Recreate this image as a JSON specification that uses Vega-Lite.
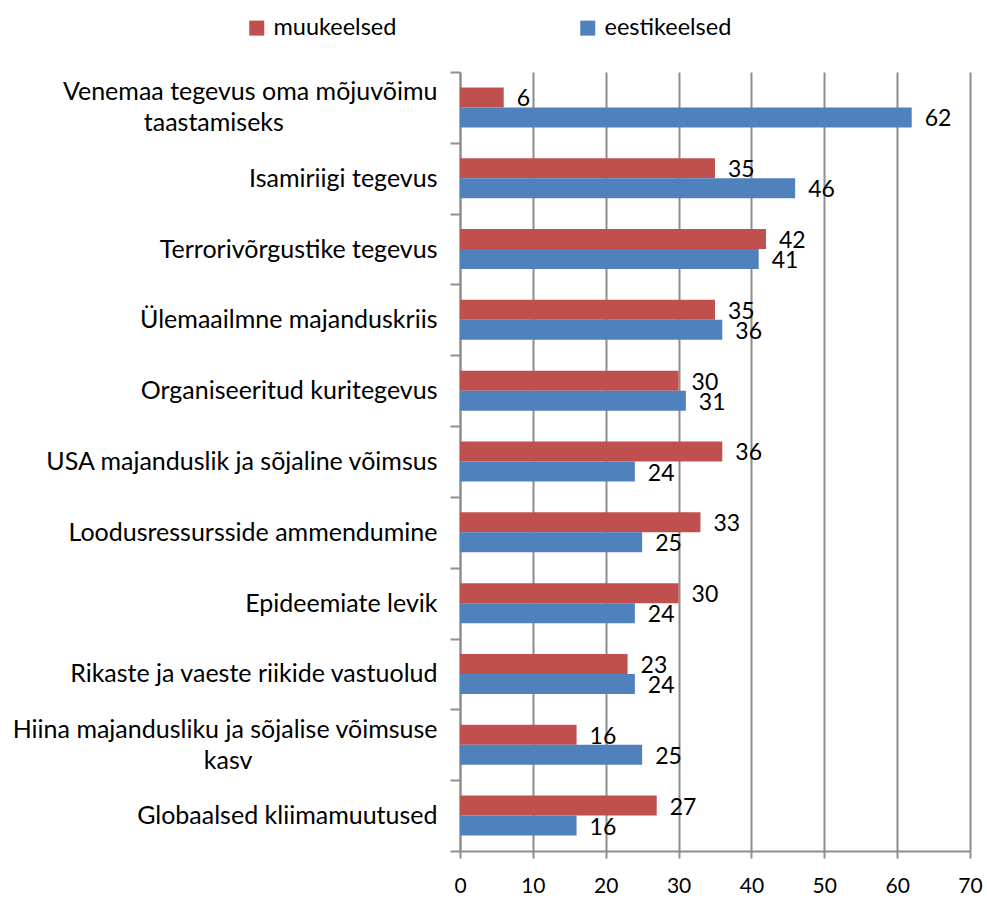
{
  "$schema": "https://vega.github.io/schema/vega-lite/v6.json",
  "width": 510,
  "height": 779,
  "autosize": {"type": "none"},
  "padding": {"left": 460, "top": 72, "right": 17, "bottom": 47},
  "background": "white",
  "config": {"view": {"stroke": null}, "font": "Lato"},
  "data": {
    "values": [
      {"category": "Venemaa tegevus oma mõjuvõimu taastamiseks", "group": "muukeelsed", "value": 6},
      {"category": "Venemaa tegevus oma mõjuvõimu taastamiseks", "group": "eestikeelsed", "value": 62},
      {"category": "Isamiriigi tegevus", "group": "muukeelsed", "value": 35},
      {"category": "Isamiriigi tegevus", "group": "eestikeelsed", "value": 46},
      {"category": "Terrorivõrgustike tegevus", "group": "muukeelsed", "value": 42},
      {"category": "Terrorivõrgustike tegevus", "group": "eestikeelsed", "value": 41},
      {"category": "Ülemaailmne majanduskriis", "group": "muukeelsed", "value": 35},
      {"category": "Ülemaailmne majanduskriis", "group": "eestikeelsed", "value": 36},
      {"category": "Organiseeritud kuritegevus", "group": "muukeelsed", "value": 30},
      {"category": "Organiseeritud kuritegevus", "group": "eestikeelsed", "value": 31},
      {"category": "USA majanduslik ja sõjaline võimsus", "group": "muukeelsed", "value": 36},
      {"category": "USA majanduslik ja sõjaline võimsus", "group": "eestikeelsed", "value": 24},
      {"category": "Loodusressursside ammendumine", "group": "muukeelsed", "value": 33},
      {"category": "Loodusressursside ammendumine", "group": "eestikeelsed", "value": 25},
      {"category": "Epideemiate levik", "group": "muukeelsed", "value": 30},
      {"category": "Epideemiate levik", "group": "eestikeelsed", "value": 24},
      {"category": "Rikaste ja vaeste riikide vastuolud", "group": "muukeelsed", "value": 23},
      {"category": "Rikaste ja vaeste riikide vastuolud", "group": "eestikeelsed", "value": 24},
      {"category": "Hiina majandusliku ja sõjalise võimsuse kasv", "group": "muukeelsed", "value": 16},
      {"category": "Hiina majandusliku ja sõjalise võimsuse kasv", "group": "eestikeelsed", "value": 25},
      {"category": "Globaalsed kliimamuutused", "group": "muukeelsed", "value": 27},
      {"category": "Globaalsed kliimamuutused", "group": "eestikeelsed", "value": 16}
    ]
  },
  "encoding": {
    "y": {
      "field": "category",
      "type": "nominal",
      "sort": ["Venemaa tegevus oma mõjuvõimu taastamiseks", "Isamiriigi tegevus", "Terrorivõrgustike tegevus", "Ülemaailmne majanduskriis", "Organiseeritud kuritegevus", "USA majanduslik ja sõjaline võimsus", "Loodusressursside ammendumine", "Epideemiate levik", "Rikaste ja vaeste riikide vastuolud", "Hiina majandusliku ja sõjalise võimsuse kasv", "Globaalsed kliimamuutused"],
      "scale": {"paddingInner": 0, "paddingOuter": 0},
      "axis": {
        "title": null,
        "grid": false,
        "domainColor": "#8E8E8E",
        "domainWidth": 2,
        "tickColor": "#8E8E8E",
        "tickWidth": 2,
        "tickSize": 10,
        "tickBand": "extent",
        "labelFontSize": 25,
        "labelColor": "black",
        "labelPadding": 13,
        "labelLimit": 600,
        "labelOverlap": false,
        "labelOffset": -15.5,
        "labelLineHeight": 15.5,
        "labelExpr": "datum.value == 'Venemaa tegevus oma mõjuvõimu taastamiseks' ? ['Venemaa tegevus oma mõjuvõimu', '\u200b', 'taastamiseks\u00a0\u00a0\u00a0\u00a0\u00a0\u00a0\u00a0\u00a0\u00a0\u00a0\u00a0\u00a0\u00a0\u00a0\u00a0\u00a0\u00a0\u00a0\u00a0\u00a0\u00a0\u00a0\u00a0\u00a0\u200b'] : datum.value == 'Hiina majandusliku ja sõjalise võimsuse kasv' ? ['Hiina majandusliku ja sõjalise võimsuse', '\u200b', 'kasv\u00a0\u00a0\u00a0\u00a0\u00a0\u00a0\u00a0\u00a0\u00a0\u00a0\u00a0\u00a0\u00a0\u00a0\u00a0\u00a0\u00a0\u00a0\u00a0\u00a0\u00a0\u00a0\u00a0\u00a0\u00a0\u00a0\u00a0\u00a0\u00a0\u200b'] : ['\u200b', datum.value]"
      }
    },
    "yOffset": {
      "field": "group",
      "type": "nominal",
      "sort": ["muukeelsed", "eestikeelsed"],
      "scale": {"paddingInner": 0, "paddingOuter": 0.77}
    },
    "x": {
      "field": "value",
      "type": "quantitative",
      "scale": {"domain": [0, 70], "nice": false},
      "axis": {
        "title": null,
        "values": [0, 10, 20, 30, 40, 50, 60, 70],
        "grid": true,
        "gridColor": "#8E8E8E",
        "gridWidth": 2,
        "domainColor": "#8E8E8E",
        "domainWidth": 2,
        "tickColor": "#8E8E8E",
        "tickWidth": 2,
        "tickSize": 7,
        "labelFontSize": 21,
        "labelColor": "black",
        "labelPadding": 17,
        "labelFlush": false
      }
    }
  },
  "layer": [
    {
      "mark": {"type": "bar"},
      "encoding": {
        "color": {
          "field": "group",
          "type": "nominal",
          "scale": {"domain": ["muukeelsed", "eestikeelsed"], "range": ["#C0504D", "#4F81BD"]},
          "legend": {
            "title": null,
            "orient": "none",
            "legendX": -215,
            "legendY": -56,
            "direction": "horizontal",
            "columns": 2,
            "columnPadding": 179,
            "symbolType": "square",
            "symbolSize": 225,
            "symbolStrokeWidth": 0,
            "symbolOpacity": 1,
            "labelFontSize": 23.5,
            "labelOffset": 5,
            "labelColor": "black"
          }
        }
      }
    },
    {
      "mark": {"type": "text", "align": "left", "baseline": "middle", "dx": 13, "dy": 2, "fontSize": 23, "color": "black"},
      "encoding": {"text": {"field": "value", "type": "quantitative"}}
    }
  ]
}
